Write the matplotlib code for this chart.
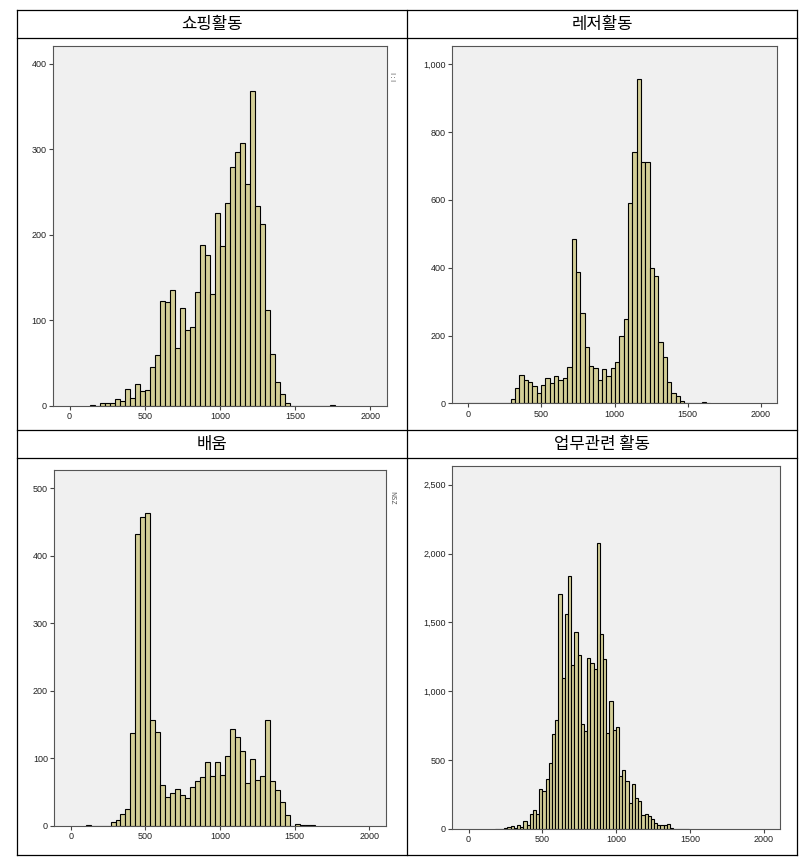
import numpy as np
import matplotlib.pyplot as plt
from matplotlib.lines import Line2D
from matplotlib.ticker import FuncFormatter

plt.rcParams['font.family'] = ['Noto Sans CJK KR', 'DejaVu Sans']

W, H = 804, 860

titles = ['쇼핑활동', '레저활동', '배움', '업무관련 활동']

# histogram counts (one value per bin)
shop_w = 100 / 3
shop_start = 4 * shop_w
shop_counts = [1, 0, 3, 3, 3, 8, 6, 20, 9, 25, 17, 18, 45, 59, 123, 121, 135, 68,
               114, 89, 92, 133, 188, 176, 131, 226, 187, 237, 279, 297, 308, 259,
               368, 234, 213, 112, 61, 28, 14, 3, 0, 0, 0, 0, 0, 0, 0, 0, 1]

leisure_w = 29.7
leisure_start = -7.0
leisure_counts = [2, 0, 0, 0, 0, 0, 0, 0, 1, 2, 14, 44, 83, 69, 62, 51, 29, 53, 75,
                  59, 80, 69, 76, 106, 485, 388, 265, 165, 110, 103, 70, 102, 82,
                  105, 123, 200, 248, 590, 740, 958, 713, 712, 400, 376, 181, 138,
                  62, 30, 22, 8, 2, 1, 0, 2, 3, 1]

learn_w = 100 / 3
learn_start = 3 * learn_w
learn_counts = [1, 0, 0, 0, 0, 5, 9, 18, 25, 137, 432, 458, 463, 157, 139, 61, 43,
                49, 55, 45, 41, 57, 66, 72, 95, 74, 94, 75, 103, 144, 131, 111, 64,
                99, 67, 73, 157, 66, 53, 35, 16, 0, 3, 1, 1, 1]

work_w = 21.6
work_start = 177.0
work_counts = [1, 2, 3, 5, 12, 22, 10, 29, 14, 60, 27, 106, 138, 111, 290, 275, 365,
               481, 688, 795, 1703, 1094, 1559, 1836, 1191, 1430, 1262, 765, 712,
               1240, 1205, 1160, 2080, 1416, 1238, 698, 928, 717, 743, 387, 427, 350,
               188, 324, 224, 205, 102, 107, 97, 70, 41, 31, 27, 27, 34, 5, 3, 2, 1,
               1, 1]

x_ticks = [0, 500, 1000, 1500, 2000]
y_ticks = [[0, 100, 200, 300, 400],
           [0, 200, 400, 600, 800, 1000],
           [0, 100, 200, 300, 400, 500],
           [0, 500, 1000, 1500, 2000, 2500]]
y_tops = [421, 1055, 527, 2638]

series = [(shop_start, shop_w, shop_counts),
          (leisure_start, leisure_w, leisure_counts),
          (learn_start, learn_w, learn_counts),
          (work_start, work_w, work_counts)]

# axes boxes in pixels: left, top, right, bottom
boxes = [(53, 46, 387, 405.7),
         (452.3, 45.7, 776.7, 403.3),
         (54.3, 470, 385.7, 825.7),
         (452.3, 465.7, 780, 829)]

fig = plt.figure(figsize=(W / 100, H / 100), dpi=100)

# table lines
for x in [17, 407, 797]:
    fig.add_artist(Line2D([x / W, x / W], [1 - 10 / H, 1 - 855 / H],
                          color='black', lw=0.9, transform=fig.transFigure))
for y in [10, 37.5, 430, 458, 855]:
    fig.add_artist(Line2D([17 / W, 797 / W], [1 - y / H, 1 - y / H],
                          color='black', lw=0.9, transform=fig.transFigure))

title_pos = [(212, 24), (602, 24), (212, 444), (602, 444)]
for (tx, ty), t in zip(title_pos, titles):
    fig.text(tx / W, 1 - ty / H, t, ha='center', va='center', fontsize=12,
             color='black')

fmt = FuncFormatter(lambda v, p: f'{int(v):,}')

for i, ((start, w, counts), (l, t, r, b)) in enumerate(zip(series, boxes)):
    ax = fig.add_axes([l / W, 1 - b / H, (r - l) / W, (b - t) / H])
    ax.set_facecolor('#F0F0F0')
    lefts = start + w * np.arange(len(counts))
    ax.bar(lefts, counts, width=w, align='edge', color='#D3CE97',
           edgecolor='black', linewidth=0.8)
    ax.set_xlim(-110, 2110)
    ax.set_ylim(0, y_tops[i])
    ax.set_xticks(x_ticks)
    ax.set_yticks(y_ticks[i])
    ax.yaxis.set_major_formatter(fmt)
    for s in ax.spines.values():
        s.set_color('#555555')
        s.set_linewidth(0.8)
    ax.tick_params(direction='out', length=3, width=0.8, color='#444444',
                   labelsize=6.5, labelcolor='#222222', pad=1.5)
    for lab in ax.get_xticklabels() + ax.get_yticklabels():
        lab.set_fontfamily(['Liberation Sans', 'DejaVu Sans'])

# clipped legend remnants at the right edge of two panels
fig.text(392 / W, 1 - 77 / H, 'I : I', rotation=-90, fontsize=5, color='#555555',
         ha='center', va='center')
fig.text(392 / W, 1 - 498 / H, 'NSZ', rotation=-90, fontsize=5, color='#555555',
         ha='center', va='center')

fig.savefig('out.png', dpi=100)
